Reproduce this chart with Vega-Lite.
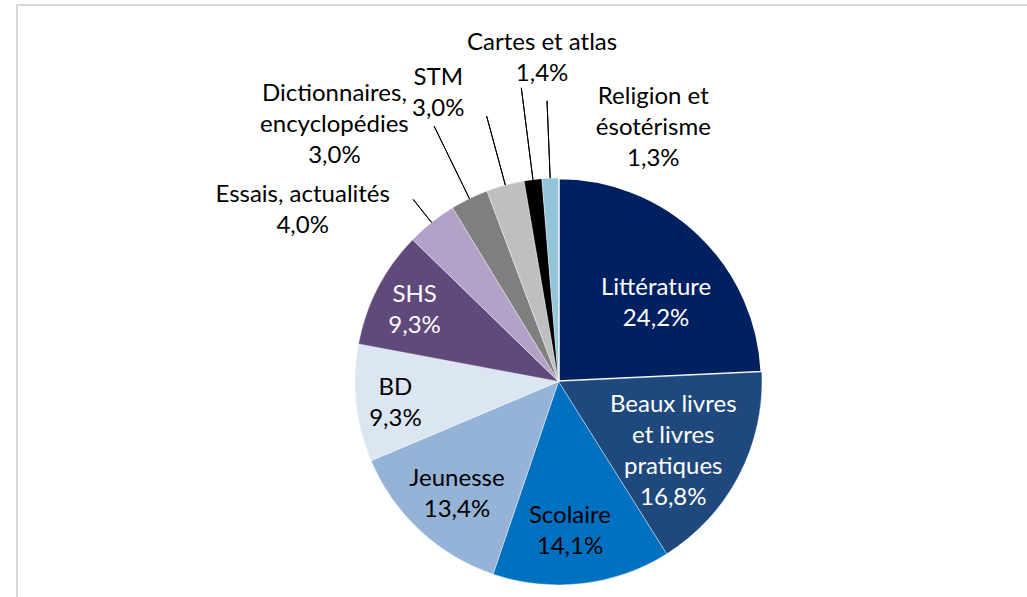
{
  "$schema": "https://vega.github.io/schema/vega-lite/v6.json",
  "width": 1083,
  "height": 753,
  "autosize": {"type": "none"},
  "padding": {"left": 17, "top": 5, "right": -73, "bottom": -161},
  "background": "white",
  "view": {"stroke": "#D9D9D9", "strokeWidth": 2},
  "config": {"view": {"stroke": "#D9D9D9", "strokeWidth": 2}, "style": {"cell": {"stroke": "#D9D9D9", "strokeWidth": 2}}},
  "data": {"values": [
    {"cat": "Littérature", "value": 24.2, "ord": 1, "label": "Littérature\n24,2%"},
    {"cat": "Beaux livres et livres pratiques", "value": 16.8, "ord": 2, "label": "Beaux livres\net livres\npratiques\n16,8%"},
    {"cat": "Scolaire", "value": 14.1, "ord": 3, "label": "Scolaire\n14,1%"},
    {"cat": "Jeunesse", "value": 13.4, "ord": 4, "label": "Jeunesse\n13,4%"},
    {"cat": "BD", "value": 9.3, "ord": 5, "label": "BD\n9,3%"},
    {"cat": "SHS", "value": 9.3, "ord": 6, "label": "SHS\n9,3%"},
    {"cat": "Essais, actualités", "value": 4.0, "ord": 7, "label": "Essais, actualités\n4,0%"},
    {"cat": "Dictionnaires, encyclopédies", "value": 3.0, "ord": 8, "label": "Dictionnaires,\nencyclopédies\n3,0%"},
    {"cat": "STM", "value": 3.0, "ord": 9, "label": "STM\n3,0%"},
    {"cat": "Cartes et atlas", "value": 1.4, "ord": 10, "label": "Cartes et atlas\n1,4%"},
    {"cat": "Religion et ésotérisme", "value": 1.3, "ord": 11, "label": "Religion et\nésotérisme\n1,3%"}
  ]},
  "encoding": {
    "theta": {"field": "value", "type": "quantitative", "stack": true},
    "order": {"field": "ord", "type": "quantitative"}
  },
  "layer": [
    {
      "mark": {"type": "arc", "outerRadius": 203.5, "stroke": "white"},
      "encoding": {
        "color": {"field": "cat", "type": "nominal", "legend": null,
          "scale": {
            "domain": ["Littérature", "Beaux livres et livres pratiques", "Scolaire", "Jeunesse", "BD", "SHS", "Essais, actualités", "Dictionnaires, encyclopédies", "STM", "Cartes et atlas", "Religion et ésotérisme"],
            "range": ["#002060", "#1F497D", "#0070C0", "#95B3D7", "#DCE6F2", "#604A7B", "#B3A2C7", "#7F7F7F", "#BFBFBF", "#000000", "#92C5DA"]
          }},
        "strokeWidth": {"condition": {"test": "datum.cat === 'Littérature'", "value": 2.5}, "value": 0.4}
      }
    },
    {"mark": {"type": "arc", "innerRadius": 203.5, "outerRadius": 233, "padAngle": 3, "fillOpacity": 0, "stroke": "black", "strokeWidth": 1},
     "encoding": {"strokeOpacity": {"condition": {"test": "datum.cat === 'Essais, actualités'", "value": 1}, "value": 0}}},
    {"mark": {"type": "arc", "innerRadius": 203.5, "outerRadius": 284, "padAngle": 3, "fillOpacity": 0, "stroke": "black", "strokeWidth": 1},
     "encoding": {"strokeOpacity": {"condition": {"test": "datum.cat === 'Dictionnaires, encyclopédies'", "value": 1}, "value": 0}}},
    {"mark": {"type": "arc", "innerRadius": 203.5, "outerRadius": 275, "padAngle": 3, "fillOpacity": 0, "stroke": "black", "strokeWidth": 1},
     "encoding": {"strokeOpacity": {"condition": {"test": "datum.cat === 'STM'", "value": 1}, "value": 0}}},
    {"mark": {"type": "arc", "innerRadius": 203.5, "outerRadius": 296, "padAngle": 3, "fillOpacity": 0, "stroke": "black", "strokeWidth": 1},
     "encoding": {"strokeOpacity": {"condition": {"test": "datum.cat === 'Cartes et atlas'", "value": 1}, "value": 0}}},
    {"mark": {"type": "arc", "innerRadius": 203.5, "outerRadius": 281, "padAngle": 3, "fillOpacity": 0, "stroke": "black", "strokeWidth": 1},
     "encoding": {"strokeOpacity": {"condition": {"test": "datum.cat === 'Religion et ésotérisme'", "value": 1}, "value": 0}}},
    {"mark": {"type": "text", "radius": 124, "dx": 12, "dy": -4.2, "fill": "white", "font": "Lato", "fontSize": 24, "lineHeight": 31, "lineBreak": "\n", "align": "center", "baseline": "middle"},
     "encoding": {"text": {"condition": {"test": "datum.cat === 'Littérature'", "field": "label"}, "value": ""}}},
    {"mark": {"type": "text", "radius": 134, "dx": -4, "dy": -38.4, "fill": "white", "font": "Lato", "fontSize": 24, "lineHeight": 31, "lineBreak": "\n", "align": "center", "baseline": "middle"},
     "encoding": {"text": {"condition": {"test": "datum.cat === 'Beaux livres et livres pratiques'", "field": "label"}, "value": ""}}},
    {"mark": {"type": "text", "radius": 150, "dx": -6, "dy": -14.8, "fill": "black", "font": "Lato", "fontSize": 24, "lineHeight": 31, "lineBreak": "\n", "align": "center", "baseline": "middle"},
     "encoding": {"text": {"condition": {"test": "datum.cat === 'Scolaire'", "field": "label"}, "value": ""}}},
    {"mark": {"type": "text", "radius": 152, "dx": 2, "dy": -13.5, "fill": "black", "font": "Lato", "fontSize": 24, "lineHeight": 31, "lineBreak": "\n", "align": "center", "baseline": "middle"},
     "encoding": {"text": {"condition": {"test": "datum.cat === 'Jeunesse'", "field": "label"}, "value": ""}}},
    {"mark": {"type": "text", "radius": 164, "dx": 0, "dy": -11.5, "fill": "black", "font": "Lato", "fontSize": 24, "lineHeight": 31, "lineBreak": "\n", "align": "center", "baseline": "middle"},
     "encoding": {"text": {"condition": {"test": "datum.cat === 'BD'", "field": "label"}, "value": ""}}},
    {"mark": {"type": "text", "radius": 161, "dx": -1, "dy": -12.8, "fill": "white", "font": "Lato", "fontSize": 24, "lineHeight": 31, "lineBreak": "\n", "align": "center", "baseline": "middle"},
     "encoding": {"text": {"condition": {"test": "datum.cat === 'SHS'", "field": "label"}, "value": ""}}},
    {"mark": {"type": "text", "radius": 293, "dx": -73, "dy": 42.5, "fill": "black", "font": "Lato", "fontSize": 24, "lineHeight": 31, "lineBreak": "\n", "align": "center", "baseline": "middle"},
     "encoding": {"text": {"condition": {"test": "datum.cat === 'Essais, actualités'", "field": "label"}, "value": ""}}},
    {"mark": {"type": "text", "radius": 329, "dx": -80, "dy": 8, "fill": "black", "font": "Lato", "fontSize": 24, "lineHeight": 31, "lineBreak": "\n", "align": "center", "baseline": "middle"},
     "encoding": {"text": {"condition": {"test": "datum.cat === 'Dictionnaires, encyclopédies'", "field": "label"}, "value": ""}}},
    {"mark": {"type": "text", "radius": 309, "dx": -39.5, "dy": -4.8, "fill": "black", "font": "Lato", "fontSize": 24, "lineHeight": 31, "lineBreak": "\n", "align": "center", "baseline": "middle"},
     "encoding": {"text": {"condition": {"test": "datum.cat === 'STM'", "field": "label"}, "value": ""}}},
    {"mark": {"type": "text", "radius": 322, "dx": 24, "dy": -18.6, "fill": "black", "font": "Lato", "fontSize": 24, "lineHeight": 31, "lineBreak": "\n", "align": "center", "baseline": "middle"},
     "encoding": {"text": {"condition": {"test": "datum.cat === 'Cartes et atlas'", "field": "label"}, "value": ""}}},
    {"mark": {"type": "text", "radius": 249, "dx": 105, "dy": -35.4, "fill": "black", "font": "Lato", "fontSize": 24, "lineHeight": 31, "lineBreak": "\n", "align": "center", "baseline": "middle"},
     "encoding": {"text": {"condition": {"test": "datum.cat === 'Religion et ésotérisme'", "field": "label"}, "value": ""}}}
  ]
}
